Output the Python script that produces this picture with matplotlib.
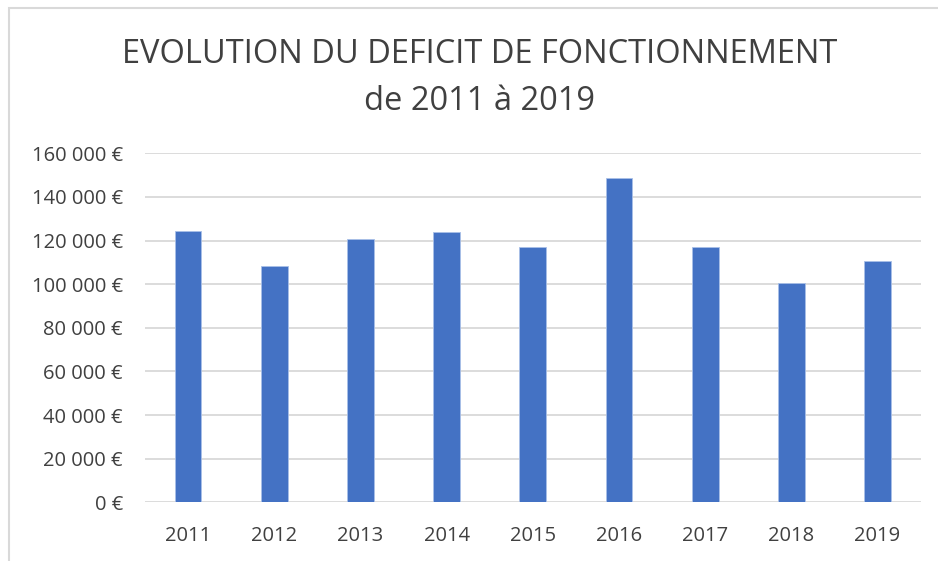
"""Evolution du deficit de fonctionnement, bar chart"""

import matplotlib
matplotlib.use("Agg")
import matplotlib.pyplot as plt
from matplotlib.patches import Rectangle

years = ["2011", "2012", "2013", "2014", "2015", "2016", "2017", "2018", "2019"]
deficit = [124300, 108500, 120800, 124100, 116900, 148600, 117100, 100400, 110500]
yticks = [0, 20000, 40000, 60000, 80000, 100000, 120000, 140000, 160000]


def euro(v):
    """formats 120000 as '120 000 €'"""
    return "{:,}".format(int(v)).replace(",", " ") + " €"


plt.rcParams["font.family"] = ["Open Sans", "DejaVu Sans"]

fig = plt.figure(figsize=(9.38, 5.61), dpi=100)
ax = fig.add_axes([0.1546, 0.1046, 0.8269, 0.6221])

x = range(len(years))
ax.bar(x, deficit, width=0.31, color="#4472c4", edgecolor="#a9c0e8",
       linewidth=0.6, zorder=3)

ax.set_xlim(-0.5, len(years) - 0.5)
ax.set_ylim(0, 160000)
ax.set_yticks(yticks)
ax.set_yticklabels([euro(v) for v in yticks])
ax.set_xticks(list(x))
ax.set_xticklabels(years)
ax.grid(axis="y", color="#d9d9d9", linewidth=1.3, zorder=0)
for s in ax.spines.values():
    s.set_visible(False)
ax.tick_params(length=0, labelsize=14.5, colors="#404040")
ax.tick_params(axis="y", pad=16)
ax.tick_params(axis="x", pad=17)

fig.text(0.511, 0.861, "EVOLUTION DU DEFICIT DE FONCTIONNEMENT\nde 2011 à 2019",
         ha="center", va="center", fontsize=23.5, color="#404040",
         linespacing=1.55)

# chart frame, cut off at right and bottom like the screenshot
fig.patches.append(Rectangle((9 / 938, -0.05), 1.1, 1 - 8.5 / 561 + 0.05,
                             transform=fig.transFigure, fill=False,
                             edgecolor="#d9d9d9", linewidth=1.5))

fig.savefig("out.png", dpi=100)
